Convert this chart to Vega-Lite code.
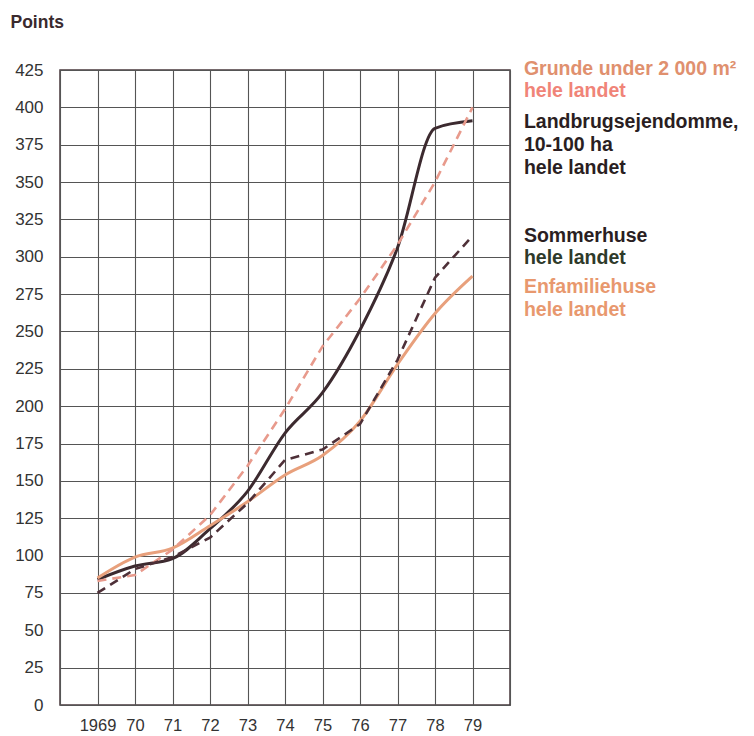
{
  "$schema": "https://vega.github.io/schema/vega-lite/v6.json",
  "autosize": {"type": "none"},
  "width": 450,
  "height": 635,
  "padding": {"left": 60, "top": 70, "right": 244, "bottom": 31},
  "background": "white",
  "config": {
    "font": "Liberation Sans",
    "view": {"stroke": "#4a3a3e", "strokeWidth": 1.5}
  },
  "datasets": {
    "series": [
      {"series": "Grunde", "year": 1969, "v": 83},
      {"series": "Grunde", "year": 1970, "v": 87},
      {"series": "Grunde", "year": 1971, "v": 104},
      {"series": "Grunde", "year": 1972, "v": 127},
      {"series": "Grunde", "year": 1973, "v": 160},
      {"series": "Grunde", "year": 1974, "v": 198},
      {"series": "Grunde", "year": 1975, "v": 240},
      {"series": "Grunde", "year": 1976, "v": 272},
      {"series": "Grunde", "year": 1977, "v": 308},
      {"series": "Grunde", "year": 1978, "v": 350},
      {"series": "Grunde", "year": 1979, "v": 400},
      {"series": "Landbrug", "year": 1969, "v": 84},
      {"series": "Landbrug", "year": 1970, "v": 93},
      {"series": "Landbrug", "year": 1971, "v": 98},
      {"series": "Landbrug", "year": 1972, "v": 118},
      {"series": "Landbrug", "year": 1973, "v": 143},
      {"series": "Landbrug", "year": 1974, "v": 182},
      {"series": "Landbrug", "year": 1975, "v": 209},
      {"series": "Landbrug", "year": 1976, "v": 251},
      {"series": "Landbrug", "year": 1977, "v": 306},
      {"series": "Landbrug", "year": 1978, "v": 386},
      {"series": "Landbrug", "year": 1979, "v": 391},
      {"series": "Sommerhuse", "year": 1969, "v": 75},
      {"series": "Sommerhuse", "year": 1970, "v": 91},
      {"series": "Sommerhuse", "year": 1971, "v": 99},
      {"series": "Sommerhuse", "year": 1972, "v": 112},
      {"series": "Sommerhuse", "year": 1973, "v": 135},
      {"series": "Sommerhuse", "year": 1974, "v": 164},
      {"series": "Sommerhuse", "year": 1975, "v": 171},
      {"series": "Sommerhuse", "year": 1976, "v": 188},
      {"series": "Sommerhuse", "year": 1977, "v": 231},
      {"series": "Sommerhuse", "year": 1978, "v": 286},
      {"series": "Sommerhuse", "year": 1979, "v": 314},
      {"series": "Enfamiliehuse", "year": 1969, "v": 85},
      {"series": "Enfamiliehuse", "year": 1970, "v": 99},
      {"series": "Enfamiliehuse", "year": 1971, "v": 105},
      {"series": "Enfamiliehuse", "year": 1972, "v": 120},
      {"series": "Enfamiliehuse", "year": 1973, "v": 136},
      {"series": "Enfamiliehuse", "year": 1974, "v": 154},
      {"series": "Enfamiliehuse", "year": 1975, "v": 167},
      {"series": "Enfamiliehuse", "year": 1976, "v": 190},
      {"series": "Enfamiliehuse", "year": 1977, "v": 228},
      {"series": "Enfamiliehuse", "year": 1978, "v": 262},
      {"series": "Enfamiliehuse", "year": 1979, "v": 287}
    ],
    "labels": [
      {"text": "Grunde under 2 000 m²", "ink": "salmon", "year": 1980.37, "v": 426},
      {"text": "hele landet", "ink": "pink", "year": 1980.37, "v": 411},
      {"text": "Landbrugsejendomme,", "ink": "dark", "year": 1980.37, "v": 390},
      {"text": "10-100 ha", "ink": "dark", "year": 1980.37, "v": 375},
      {"text": "hele landet", "ink": "dark", "year": 1980.37, "v": 359.5},
      {"text": "Sommerhuse", "ink": "dark", "year": 1980.37, "v": 314},
      {"text": "hele landet", "ink": "green", "year": 1980.37, "v": 299},
      {"text": "Enfamiliehuse", "ink": "orange", "year": 1980.37, "v": 280},
      {"text": "hele landet", "ink": "orange", "year": 1980.37, "v": 264.5}
    ]
  },
  "encoding": {
    "x": {"field": "year", "type": "quantitative", "scale": {"domain": [1968, 1980], "nice": false, "zero": false},
      "axis": {"values": [1968, 1969, 1970, 1971, 1972, 1973, 1974, 1975, 1976, 1977, 1978, 1979, 1980], "title": null, "grid": true, "gridColor": "#555", "gridWidth": 1.1, "gridOpacity": 1, "domain": false, "ticks": false, "labelColor": "#333", "labelFontSize": 16.5, "labelPadding": 12, "labelFont": "Liberation Sans", "labelExpr": "datum.value == 1969 ? '1969' : (datum.value > 1969 && datum.value < 1980 ? slice(datum.label, -2) : '')"}},
    "y": {"field": "v", "type": "quantitative", "scale": {"domain": [0, 425], "nice": false},
      "axis": {"values": [0, 25, 50, 75, 100, 125, 150, 175, 200, 225, 250, 275, 300, 325, 350, 375, 400, 425], "grid": true, "gridColor": "#555", "gridWidth": 1.1, "gridOpacity": 1, "domain": false, "ticks": false, "labelColor": "#333", "labelFontSize": 17, "labelFont": "Liberation Sans", "labelPadding": 17, "title": "Points", "titleAngle": 0, "titleAlign": "left", "titleBaseline": "alphabetic", "titleX": -50, "titleY": -43, "titleFontSize": 17.5, "titleFontWeight": "bold", "titleColor": "#3a2a2e", "titleFont": "Liberation Sans"}}
  },
  "layer": [
    {
      "data": {"name": "series"},
      "transform": [{"filter": "datum.series == 'Enfamiliehuse' || datum.series == 'Landbrug'"}],
      "mark": {"type": "line", "strokeWidth": 3, "interpolate": "monotone", "clip": false},
      "encoding": {
        "color": {"field": "series", "type": "nominal", "legend": null,
          "scale": {"domain": ["Grunde", "Landbrug", "Sommerhuse", "Enfamiliehuse"], "range": ["#e89a8c", "#3c2a2f", "#4e3038", "#e8a07c"]}},
        "detail": {"field": "series"}
      }
    },
    {
      "data": {"name": "series"},
      "transform": [{"filter": "datum.series == 'Grunde' || datum.series == 'Sommerhuse'"}],
      "mark": {"type": "line", "strokeWidth": 2.6, "strokeDash": [9, 6], "clip": false},
      "encoding": {
        "color": {"field": "series", "type": "nominal", "legend": null,
          "scale": {"domain": ["Grunde", "Landbrug", "Sommerhuse", "Enfamiliehuse"], "range": ["#e89a8c", "#3c2a2f", "#4e3038", "#e8a07c"]}},
        "detail": {"field": "series"}
      }
    },
    {
      "data": {"name": "labels"},
      "mark": {"type": "text", "align": "left", "baseline": "middle", "fontSize": 19.5, "fontWeight": "bold", "font": "Liberation Sans", "clip": false},
      "encoding": {
        "text": {"field": "text"},
        "color": {"field": "ink", "type": "nominal", "legend": null,
          "scale": {"domain": ["salmon", "pink", "dark", "green", "orange"], "range": ["#e0906e", "#f08478", "#2a1e22", "#2e3a2a", "#e8986e"]}}
      }
    }
  ],
  "resolve": {"scale": {"color": "independent"}}
}
